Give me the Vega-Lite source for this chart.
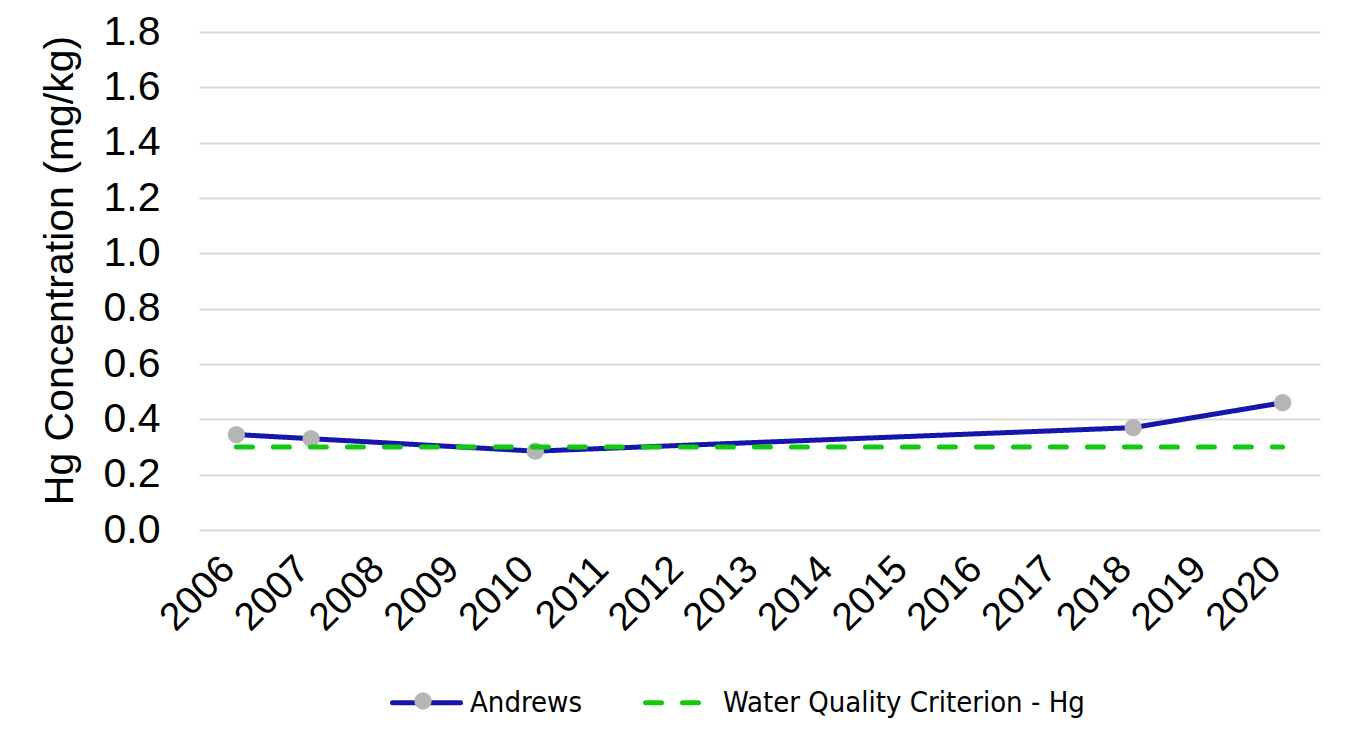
{
  "$schema": "https://vega.github.io/schema/vega-lite/v6.json",
  "width": 1121,
  "height": 498,
  "autosize": {"type": "none"},
  "padding": {"left": 199, "top": 32, "right": 45, "bottom": 224},
  "background": "white",
  "config": {"view": {"stroke": null}, "font": "Liberation Sans"},
  "data": {
    "values": [
      {"year": "2006", "value": 0.345, "series": "Andrews"},
      {"year": "2007", "value": 0.33, "series": "Andrews"},
      {"year": "2010", "value": 0.285, "series": "Andrews"},
      {"year": "2018", "value": 0.37, "series": "Andrews"},
      {"year": "2020", "value": 0.46, "series": "Andrews"},
      {"year": "2006", "value": 0.3, "series": "Water Quality Criterion - Hg"},
      {"year": "2007", "value": 0.3, "series": "Water Quality Criterion - Hg"},
      {"year": "2008", "value": 0.3, "series": "Water Quality Criterion - Hg"},
      {"year": "2009", "value": 0.3, "series": "Water Quality Criterion - Hg"},
      {"year": "2010", "value": 0.3, "series": "Water Quality Criterion - Hg"},
      {"year": "2011", "value": 0.3, "series": "Water Quality Criterion - Hg"},
      {"year": "2012", "value": 0.3, "series": "Water Quality Criterion - Hg"},
      {"year": "2013", "value": 0.3, "series": "Water Quality Criterion - Hg"},
      {"year": "2014", "value": 0.3, "series": "Water Quality Criterion - Hg"},
      {"year": "2015", "value": 0.3, "series": "Water Quality Criterion - Hg"},
      {"year": "2016", "value": 0.3, "series": "Water Quality Criterion - Hg"},
      {"year": "2017", "value": 0.3, "series": "Water Quality Criterion - Hg"},
      {"year": "2018", "value": 0.3, "series": "Water Quality Criterion - Hg"},
      {"year": "2019", "value": 0.3, "series": "Water Quality Criterion - Hg"},
      {"year": "2020", "value": 0.3, "series": "Water Quality Criterion - Hg"}
    ]
  },
  "encoding": {
    "x": {
      "field": "year", "type": "ordinal",
      "scale": {"type": "point", "padding": 0.5, "domain": ["2006","2007","2008","2009","2010","2011","2012","2013","2014","2015","2016","2017","2018","2019","2020"]},
      "axis": {"title": null, "labelAngle": -45, "labelAlign": "right", "labelBaseline": "alphabetic", "labelFontSize": 39, "labelColor": "#000000", "domain": false, "ticks": false, "grid": false, "labelPadding": 41, "labelDx": 10, "labelFont": "Liberation Sans"}
    },
    "y": {
      "field": "value", "type": "quantitative",
      "scale": {"domain": [0, 1.8]},
      "axis": {
        "values": [0, 0.2, 0.4, 0.6, 0.8, 1.0, 1.2, 1.4, 1.6, 1.8],
        "format": ".1f",
        "title": "Hg Concentration (mg/kg)",
        "titleFont": "Liberation Sans", "titleFontSize": 41, "titleFontWeight": "normal", "titleColor": "#000000", "titlePadding": 22, "titleY": 238,
        "labelFont": "Liberation Sans", "labelFontSize": 41, "labelColor": "#000000", "labelPadding": 39,
        "ticks": false, "domain": false, "grid": true, "gridColor": "#d9d9d9", "gridWidth": 2
      }
    }
  },
  "layer": [
    {
      "transform": [{"filter": "datum.series === 'Andrews'"}],
      "mark": {"type": "line", "strokeWidth": 5, "strokeCap": "round"},
      "encoding": {
        "stroke": {"field": "series", "type": "nominal",
          "scale": {"domain": ["Andrews", "Water Quality Criterion - Hg"], "range": ["#1616ac", "#12c912"]},
          "legend": {"orient": "none", "legendX": 191, "legendY": 634, "direction": "horizontal", "title": null, "symbolType": "stroke", "symbolSize": 4624, "symbolStrokeWidth": 5, "labelFont": "DejaVu Sans Condensed", "labelFontSize": 29, "labelColor": "#000000", "labelOffset": 7, "columnPadding": 52, "labelLimit": 0, "encode": {"symbols": {"update": {"strokeCap": {"value": "round"}}}}}},
        "strokeDash": {"field": "series", "type": "nominal",
          "scale": {"domain": ["Andrews", "Water Quality Criterion - Hg"], "range": [[1, 0], [16, 21]]},
          "legend": {"orient": "none", "legendX": 191, "legendY": 634, "direction": "horizontal", "title": null, "symbolType": "stroke", "symbolSize": 4624, "symbolStrokeWidth": 5, "labelFont": "DejaVu Sans Condensed", "labelFontSize": 29, "labelColor": "#000000", "labelOffset": 7, "columnPadding": 52, "labelLimit": 0, "encode": {"symbols": {"update": {"strokeCap": {"value": "round"}}}}}}
      }
    },
    {
      "transform": [{"filter": "datum.series === 'Andrews'"}],
      "mark": {"type": "point", "filled": true, "size": 300, "opacity": 1, "strokeWidth": 0},
      "encoding": {
        "fill": {"field": "series", "type": "nominal",
          "scale": {"domain": ["Andrews"], "range": ["#b5b5b5"]},
          "legend": {"orient": "none", "legendX": 215, "legendY": 660, "title": null, "symbolType": "circle", "symbolSize": 300, "symbolStrokeWidth": 0, "labelExpr": "''", "labelFontSize": 1}}
      }
    },
    {
      "transform": [{"filter": "datum.series !== 'Andrews'"}],
      "mark": {"type": "line", "strokeWidth": 5, "strokeCap": "round"},
      "encoding": {
        "stroke": {"field": "series", "type": "nominal"},
        "strokeDash": {"field": "series", "type": "nominal"}
      }
    }
  ]
}
